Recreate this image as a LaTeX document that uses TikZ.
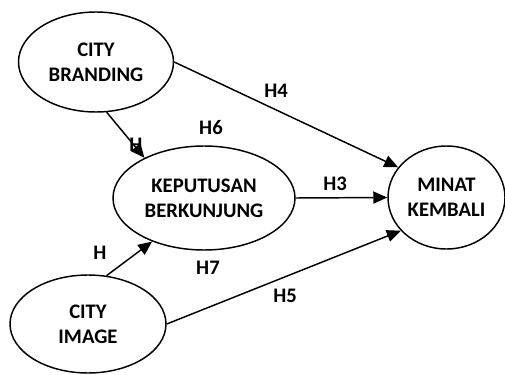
\documentclass[tikz,border=0pt]{standalone}
\usepackage{fontspec}
\setmainfont{Carlito}
\usepackage{tikz}
\usetikzlibrary{shapes.geometric,arrows.meta}

\tikzset{
    var/.style={draw, ellipse, line width=1.1pt, inner sep=0pt, align=center,
        font=\bfseries\fontsize{15.5}{19}\selectfont},
    hyp/.style={font=\bfseries\fontsize{15.5}{17}\selectfont, inner sep=0pt},
    path/.style={line width=1.1pt, -{Triangle[length=10.5pt, width=9pt]}}
}

\begin{document}
\begin{tikzpicture}[x=0.75pt, y=-0.75pt]
    \useasboundingbox (0,0) rectangle (505,374);
    \node[var, minimum width=116.25pt, minimum height=75pt]  (cb) at (96,62)    {CITY\\BRANDING};
    \node[var, minimum width=136.5pt, minimum height=78pt]   (kb) at (204,198)  {KEPUTUSAN\\BERKUNJUNG};
    \node[var, minimum width=87.75pt, minimum height=77.25pt] (mk) at (446.5,197.5) {MINAT\\KEMBALI};
    \node[var, minimum width=117pt, minimum height=73.5pt]   (ci) at (88,324)   {CITY\\IMAGE};
    \draw[path]     (cb.-78) -- (kb.146);
    \draw[path]     (cb.east) -- (mk.148);
    \draw[path]     (kb.east) -- (mk.west);
    \draw[path]     (ci.69) -- (kb.220);
    \draw[path]     (ci.east) -- (mk.216);
    \node[hyp] (h1) at (136,145) {H};
    \node[hyp] (h6) at (211,128) {H6};
    \node[hyp] (h4) at (276,91)  {H4};
    \node[hyp] (h3) at (335,184) {H3};
    \node[hyp] (h2) at (100,253) {H};
    \node[hyp] (h7) at (208,268) {H7};
    \node[hyp] (h5) at (285,296) {H5};
\end{tikzpicture}
\end{document}
